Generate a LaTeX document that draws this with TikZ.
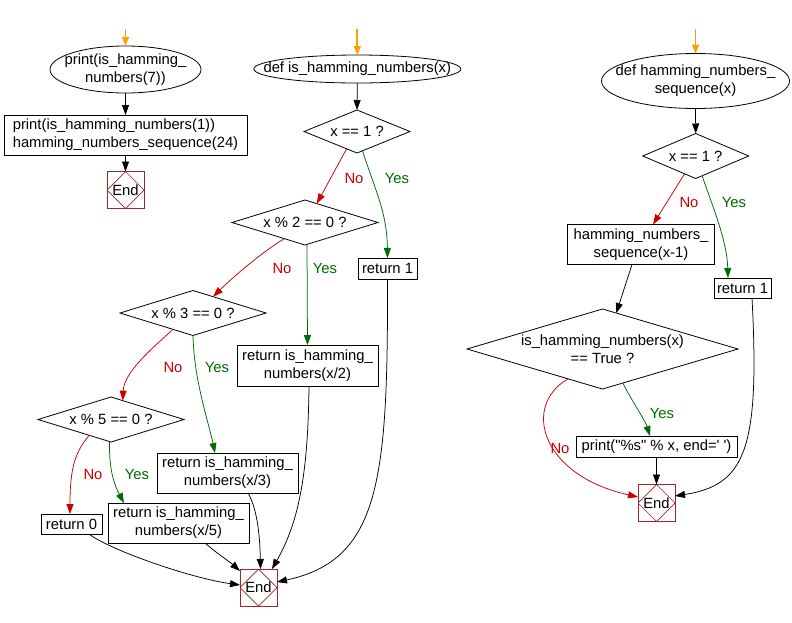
\documentclass[tikz,border=0pt]{standalone}
\usepackage{fontspec}
\setmainfont{Liberation Sans}
\usetikzlibrary{shapes.geometric,arrows.meta}
\definecolor{endred}{RGB}{160,40,40}
\definecolor{nored}{RGB}{204,0,0}
\definecolor{yesgreen}{RGB}{0,105,0}
\definecolor{startorange}{RGB}{255,160,0}
\newcommand\sdq{\XeTeXglyph\XeTeXcharglyph"0022\relax}
\newcommand\ssq{\XeTeXglyph\XeTeXcharglyph"0027\relax}
\begin{document}
\begin{tikzpicture}[x=1pt,y=-1pt,
  every node/.style={font=\fontsize{14.8}{18}\selectfont, inner sep=0pt, outer sep=0pt},
  term/.style={ellipse, draw, line width=0.8pt},
  proc/.style={rectangle, draw, line width=0.8pt, align=center},
  dec/.style={diamond, draw, line width=0.8pt},
  txt/.style={align=center},
  endbox/.style={rectangle, draw=endred, line width=0.8pt, minimum size=37pt,
    path picture={\draw[endred,line width=0.7pt] (path picture bounding box.north) -- (path picture bounding box.east) -- (path picture bounding box.south) -- (path picture bounding box.west) -- cycle;}},
  flow/.style={draw=black, line width=0.75pt, -{Triangle[length=10pt,width=7pt]}},
  noflow/.style={flow, draw=nored, -{Triangle[length=10pt,width=7pt,fill=nored]}},
  yesflow/.style={flow, draw=yesgreen, -{Triangle[length=10pt,width=7pt,fill=yesgreen]}},
  startflow/.style={draw=startorange, line width=1.8pt, -{Triangle[length=9pt,width=7pt,fill=startorange]}},
  nolab/.style={text=nored},
  yeslab/.style={text=yesgreen}
]
\useasboundingbox (0,0) rectangle (792,622);
\fill[white] (0,0) rectangle (792,622);

% ---------- column 1 ----------
\coordinate (s1) at (125.5,29);
\node[term, minimum width=151pt, minimum height=47pt] (e1) at (125.5,69.5) {};
\node[txt] (e1t) at (e1) {print(is\_hamming\_\\numbers(7))};
\node[proc, minimum width=243pt, minimum height=40pt, align=left] (r1) at (125.5,135) {print(is\_hamming\_numbers(1))\\hamming\_numbers\_sequence(24)};
\node[endbox] (end1) at (125.5,190) {End};
\draw[startflow] (s1) -- (e1.north);
\draw[flow] (e1.south) -- (r1.north);
\draw[flow] (r1.south) -- (end1.north);

% ---------- column 2 ----------
\coordinate (s2) at (357.3,29);
\node[term, minimum width=207pt, minimum height=28pt] (e2) at (357.3,69) {};
\node[txt] (e2t) at (e2) {def is\_hamming\_numbers(x)};
\node[dec, minimum width=106pt, minimum height=43pt] (d1) at (357,131.5) {};
\node[txt] (d1t) at (d1) {x == 1 ?};
\node[dec, minimum width=146pt, minimum height=45pt] (d2) at (305,222.5) {};
\node[txt] (d2t) at (d2) {x \% 2 == 0 ?};
\node[proc, minimum width=59pt, minimum height=21pt] (ret1) at (387.5,268.5) {return 1};
\node[dec, minimum width=146pt, minimum height=45pt] (d3) at (193,313) {};
\node[txt] (d3t) at (d3) {x \% 3 == 0 ?};
\node[proc, minimum width=141pt, minimum height=41pt] (bx2) at (307.5,365.5) {return is\_hamming\_\\numbers(x/2)};
\node[dec, minimum width=146pt, minimum height=45pt] (d4) at (111,419.5) {};
\node[txt] (d4t) at (d4) {x \% 5 == 0 ?};
\node[proc, minimum width=141pt, minimum height=40pt] (bx3) at (227.5,473) {return is\_hamming\_\\numbers(x/3)};
\node[proc, minimum width=61pt, minimum height=20pt] (ret0) at (71.5,524) {return 0};
\node[proc, minimum width=141pt, minimum height=40pt] (bx5) at (178.5,523) {return is\_hamming\_\\numbers(x/5)};
\node[endbox] (end2) at (258.5,587.5) {End};

\draw[startflow] (s2) -- (e2.north);
\draw[flow] (e2.south) -- (d1.north);
\draw[noflow] (d1.-121) -- (d2.58);
\draw[yesflow] (d1.-74) .. controls (375,190) and (387,212) .. (ret1.north);
\draw[noflow] (d2.218) .. controls (262,252) and (232,278) .. (d3.39);
\draw[yesflow] ([xshift=2pt]d2.south) -- (bx2.north);
\draw[noflow] (d3.219) .. controls (160,342) and (124,370) .. (d4.58);
\draw[yesflow] (d3.south) .. controls (194,380) and (208,420) .. ([xshift=-12.5pt]bx3.north);
\draw[noflow] (d4.216) .. controls (75,452) and (70,468) .. ([xshift=-1.5pt]ret0.north);
\draw[yesflow] ([xshift=-1.5pt]d4.south) .. controls (109,472) and (115,486) .. ([xshift=-54.5pt]bx5.north);
\draw[flow] ([xshift=17.5pt]ret0.south) .. controls (110,550) and (190,578) .. ([yshift=2.5pt]end2.west);
\draw[flow] ([xshift=26.5pt]bx5.south) .. controls (215,552) and (230,562) .. ([yshift=-2pt]end2.north west);
\draw[flow] ([xshift=20.5pt]bx3.south) .. controls (258,510) and (260,540) .. ([xshift=2pt]end2.north);
\draw[flow] ([xshift=1.5pt]bx2.south) .. controls (308,470) and (300,520) .. ([xshift=13.5pt]end2.north);
\draw[flow] (ret1.south) .. controls (388,480) and (380,560) .. ([yshift=5.5pt]end2.east);

\node[nolab] (l1) at (354,178) {No};
\node[yeslab] (l2) at (397,178) {Yes};
\node[nolab] (l3) at (282,268) {No};
\node[yeslab] (l4) at (325,268) {Yes};
\node[nolab] (l5) at (173,367) {No};
\node[yeslab] (l6) at (217,367) {Yes};
\node[nolab] (l7) at (93,474) {No};
\node[yeslab] (l8) at (137,474) {Yes};

% ---------- column 3 ----------
\coordinate (s3) at (695.5,29);
\node[term, minimum width=188pt, minimum height=55pt] (e3) at (695.5,81) {};
\node[txt] (e3t) at (e3) {def hamming\_numbers\_\\sequence(x)};
\node[dec, minimum width=106pt, minimum height=45pt] (d5) at (695.7,156) {};
\node[txt] (d5t) at (d5) {x == 1 ?};
\node[proc, minimum width=147pt, minimum height=40pt] (bx6) at (641,244.5) {hamming\_numbers\_\\sequence(x-1)};
\node[proc, minimum width=57pt, minimum height=20pt] (ret1b) at (742.5,288) {return 1};
\node[dec, minimum width=271pt, minimum height=80pt] (d6) at (602.5,349) {};
\node[txt] (d6t) at (d6) {is\_hamming\_numbers(x)\\== True ?};
\node[proc, minimum width=161pt, minimum height=21pt] (bx7) at (656.5,446.5) {print(\sdq\%s\sdq{} \% x, end=\ssq{} \ssq)};
\node[endbox] (end3) at (656.5,503) {End};

\draw[startflow] (s3) -- (e3.north);
\draw[flow] (e3.south) -- (d5.north);
\draw[noflow] (d5.238) -- ([xshift=12pt]bx6.north);
\draw[yesflow] (d5.-72) .. controls (712,205) and (727,240) .. ([xshift=-14.5pt]ret1b.north);
\draw[flow] ([xshift=-9pt]bx6.south) -- (d6.69);
\draw[yesflow] (d6.-59) .. controls (630,398) and (645,420) .. ([xshift=-6.5pt]bx7.north);
\draw[noflow] (d6.221) .. controls (522,405) and (540,475) .. ([yshift=6pt]end3.west);
\draw[flow] (bx7.south) -- (end3.north);
\draw[flow] ([xshift=9.5pt]ret1b.south) .. controls (760,450) and (745,485) .. ([yshift=7pt]end3.east);

\node[nolab] (l9) at (689,202) {No};
\node[yeslab] (l10) at (734,202) {Yes};
\node[yeslab] (l11) at (662,413) {Yes};
\node[nolab] (l12) at (560,448) {No};
\end{tikzpicture}
\end{document}
